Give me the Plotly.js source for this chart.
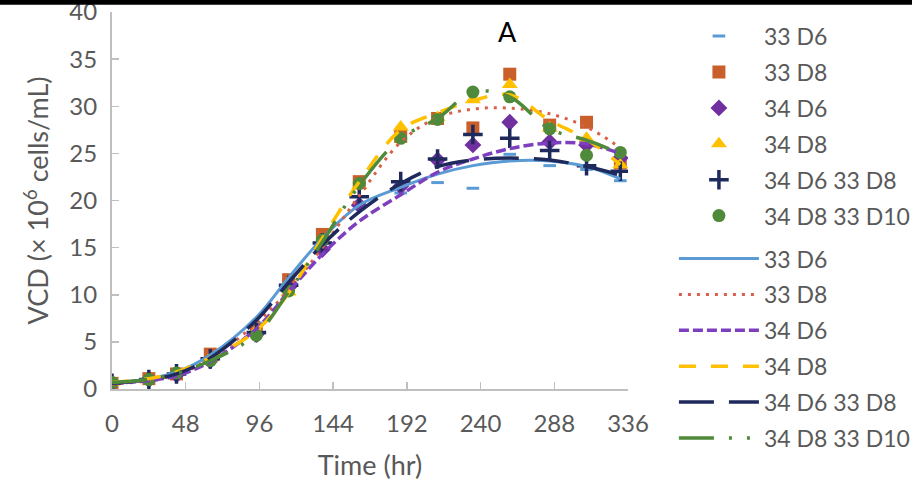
<!DOCTYPE html>
<html>
<head>
<meta charset="utf-8">
<script src="https://cdn.plot.ly/plotly-3.0.1.min.js"></script>
<style>
  html, body { margin: 0; padding: 0; background: #fff; }
  #chart { width: 912px; height: 484px; }
</style>
</head>
<body>
<div id="chart"></div>
<script>
// ── Dados ─────────────────────────────────────────────────
const timeHr = [0, 24, 42, 64, 94, 115, 137, 161, 188, 212, 235, 259, 285, 309, 331];
const xTicks = [0, 48, 96, 144, 192, 240, 288, 336];
const yTicks = [0, 5, 10, 15, 20, 25, 30, 35, 40];

const seriesNames = ['33 D6', '33 D8', '34 D6', '34 D8', '34 D6 33 D8', '34 D8 33 D10'];

// pontos medidos
const pts33D6     = [0.6, 1.1, 1.7, 3.4, 7.0, 11.5, 16.0, 19.8, 20.8, 21.9, 21.3, 24.9, 23.7, 23.3, 22.1];
const pts33D8     = [0.6, 1.1, 1.6, 3.7, 6.3, 11.6, 16.4, 22.0, 26.8, 28.7, 27.7, 33.4, 28.0, 28.3, 24.0];
const pts34D6     = [0.6, 1.0, 1.5, 3.0, 5.8, 10.8, 14.8, 19.5, 21.5, 24.3, 25.9, 28.3, 26.2, 25.9, 24.5];
const pts34D8     = [0.7, 1.2, 1.8, 3.3, 6.2, 10.3, 15.8, 21.6, 27.8, 28.8, 30.7, 32.3, 27.7, 26.6, 23.8];
const pts34D633D8 = [0.6, 1.0, 1.6, 3.2, 6.0, 11.0, 15.5, 20.4, 22.0, 24.4, 27.0, 26.6, 25.3, 23.7, 23.1];
const pts34D833D10 = [0.7, 1.0, 1.7, 3.0, 5.7, 10.4, 15.8, 21.8, 26.6, 28.6, 31.5, 31.0, 27.6, 24.8, 25.1];

const fit33D6     = [0.6, 1.1, 1.8, 3.6, 7.6, 11.8, 16.0, 19.5, 21.4, 22.8, 23.7, 24.2, 24.2, 23.6, 22.3];
const fit33D8     = [0.5, 0.9, 1.5, 3.2, 7.0, 10.5, 15.0, 20.5, 26.2, 28.8, 29.7, 29.8, 29.2, 27.8, 25.6];
const fit34D6     = [0.6, 0.9, 1.4, 2.9, 6.4, 10.3, 14.3, 17.8, 20.6, 23.0, 24.4, 25.5, 26.1, 26.0, 25.0];
const fit34D8     = [0.7, 1.1, 1.8, 3.3, 6.2, 10.2, 16.0, 22.0, 27.5, 29.3, 30.6, 31.2, 28.5, 26.5, 23.8];
const fit34D633D8 = [0.6, 1.0, 1.6, 3.3, 7.3, 11.3, 15.3, 18.8, 21.8, 23.6, 24.3, 24.5, 24.3, 23.6, 22.7];
const fit34D833D10 = [0.7, 1.0, 1.7, 3.0, 5.8, 10.3, 15.6, 21.6, 26.6, 28.7, 31.5, 31.0, 27.6, 26.4, 25.0];

const pointSets = [pts33D6, pts33D8, pts34D6, pts34D8, pts34D633D8, pts34D833D10];
const fitSets   = [fit33D6, fit33D8, fit34D6, fit34D8, fit34D633D8, fit34D833D10];

// ── Estilos ───────────────────────────────────────────────
const markerStyles = [
  { symbol: 'line-ew', size: 9,  color: '#5b9bd5', line: { width: 3, color: '#5b9bd5' } },
  { symbol: 'square',  size: 13, color: '#c9602b' },
  { symbol: 'diamond', size: 13, color: '#7030a0' },
  { symbol: 'triangle-up', size: 14, color: '#ffc000' },
  { symbol: 'cross-thin', size: 14, color: '#1f2a5c', line: { width: 3.5, color: '#1f2a5c' } },
  { symbol: 'circle',  size: 13, color: '#4f8a3a' },
];

const lineStyles = [
  { color: '#5b9bd5', width: 3, dash: 'solid' },
  { color: '#d8604a', width: 3, dash: '3px,6px' },
  { color: '#7e3fbf', width: 3.5, dash: '10px,4px' },
  { color: '#ffc000', width: 3.5, dash: '17px,15px' },
  { color: '#1f2a5c', width: 3.5, dash: '35px,15px' },
  { color: '#4f8a3a', width: 3.5, dash: '35px,15px,3px,15px,3px,15px' },
];

const FONT = 'Lato, "Open Sans", sans-serif';
const GREY = '#595959';

// marcadores na legenda 1, linhas de tendência na legenda 2
const traces = [];
seriesNames.forEach((name, i) => {
  traces.push({
    x: timeHr, y: pointSets[i],
    name, type: 'scatter', mode: 'markers',
    marker: markerStyles[i],
    legend: 'legend',
    legendgroup: 'p' + i,
  });
});
seriesNames.forEach((name, i) => {
  traces.push({
    x: timeHr, y: fitSets[i],
    name, type: 'scatter', mode: 'lines',
    line: { ...lineStyles[i], shape: 'spline', smoothing: 1 },
    legend: 'legend2',
    legendgroup: 'l' + i,
  });
});

const axisBase = {
  showgrid: false,
  zeroline: false,
  showline: true,
  linecolor: '#bfbfbf',
  linewidth: 2,
  ticks: 'inside',
  ticklen: 7,
  tickwidth: 1.5,
  tickcolor: '#bfbfbf',
  ticklabeloverflow: 'allow',
  tickfont: { family: FONT, size: 24, color: GREY },
  fixedrange: true,
};

const legendBase = {
  x: 1.089, xanchor: 'left',
  yanchor: 'top',
  itemwidth: 80,
  traceorder: 'grouped',
  tracegroupgap: 3,
  font: { family: FONT, size: 23, color: GREY },
  bgcolor: 'rgba(0,0,0,0)',
};

const layout = {
  width: 912, height: 484,
  paper_bgcolor: '#fff', plot_bgcolor: '#fff',
  // a legenda passa da borda direita (como no original) — não deixar empurrar a margem
  margin: { l: 112, r: 284, t: 12, b: 95, autoexpand: false },
  font: { family: FONT, color: GREY },
  showlegend: true,
  legend:  { ...legendBase, y: 0.993 },
  legend2: { ...legendBase, y: 0.403 },
  xaxis: {
    ...axisBase,
    range: [0, 336],
    tickvals: xTicks,
    ticklabelstandoff: 12,
    title: { text: 'Time (hr)', font: { family: FONT, size: 27, color: GREY }, standoff: 20 },
  },
  yaxis: {
    ...axisBase,
    range: [0, 40],
    tickvals: yTicks,
    ticklabelstandoff: 8,
    title: { text: 'VCD (× 10<sup>6</sup> cells/mL)', font: { family: FONT, size: 27, color: GREY }, standoff: 13 },
  },
  annotations: [{
    text: 'A', xref: 'paper', yref: 'paper', x: 0.766, y: 0.947,
    xanchor: 'center', yanchor: 'middle',
    showarrow: false, font: { family: FONT, size: 27, color: '#000' },
  }],
  shapes: [{
    type: 'rect', xref: 'paper', yref: 'paper',
    x0: -0.3, x1: 1.6, y0: 1.019, y1: 1.04,
    fillcolor: '#000', line: { width: 0 },
  }],
};

Plotly.newPlot('chart', traces, layout, { displayModeBar: false, staticPlot: true });
</script>
</body>
</html>
